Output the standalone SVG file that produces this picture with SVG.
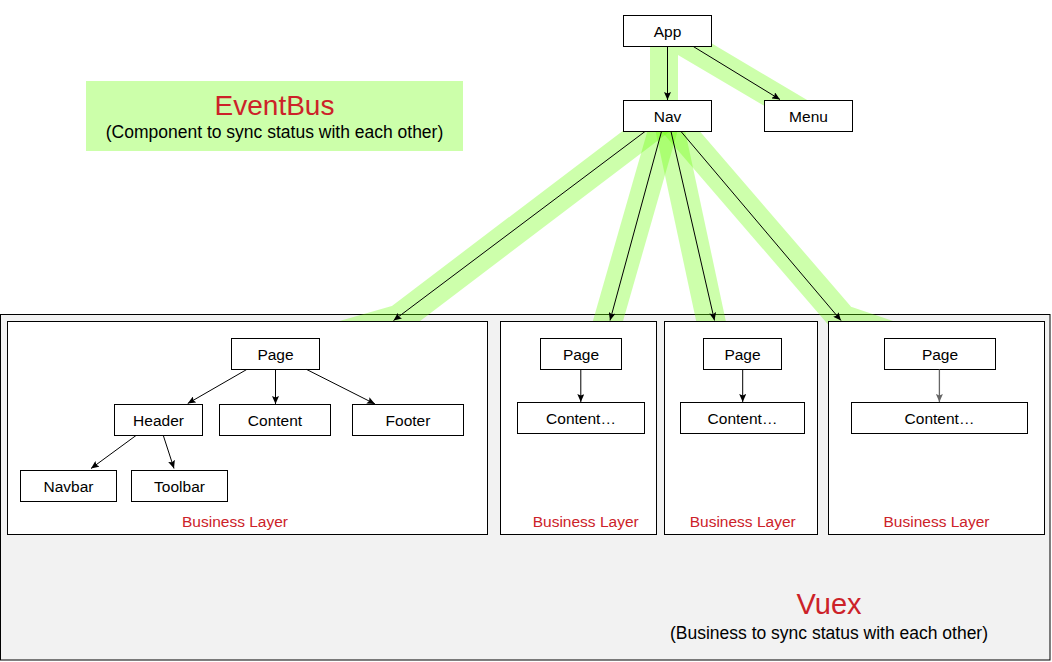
<svg xmlns="http://www.w3.org/2000/svg" width="1052" height="662" viewBox="0 0 1052 662">
<style>
.box{fill:#fff;stroke:#000;stroke-width:1}
.lbl{font-family:"Liberation Sans",Arial,sans-serif;font-size:15.5px;fill:#000;text-anchor:middle;dominant-baseline:central}
.red{font-family:"Liberation Sans",Arial,sans-serif;fill:#cc2229;text-anchor:middle}
.sub{font-family:"Liberation Sans",Arial,sans-serif;font-size:17.5px;fill:#000;text-anchor:middle}
.band{fill:none;stroke:#66ff00;stroke-opacity:0.33;stroke-width:29;stroke-linejoin:miter;stroke-linecap:butt}
.arrow{fill:none;stroke:#000;stroke-width:1;marker-end:url(#ah)}
</style>
<defs>
<marker id="ah" viewBox="0 0 8 7" refX="8" refY="3.5" markerWidth="8" markerHeight="7" markerUnits="userSpaceOnUse" orient="auto">
<path d="M0,0 L8,3.5 L0,7 L1.5,3.5 z" fill="#000"/>
</marker>
<marker id="ahg" viewBox="0 0 8 7" refX="8" refY="3.5" markerWidth="8" markerHeight="7" markerUnits="userSpaceOnUse" orient="auto">
<path d="M0,0 L8,3.5 L0,7 L1.5,3.5 z" fill="#666"/>
</marker>
</defs>

<g id="eventbus">
<rect x="86" y="81" width="377" height="70" fill="#ccffaa"/>
<text class="red" x="274.5" y="115" font-size="28">EventBus</text>
<text class="sub" x="274.5" y="138">(Component to sync status with each other)</text>
</g>

<g id="vuex">
<rect x="0.5" y="314.5" width="1049.5" height="345.5" fill="#f2f2f2" stroke="#000" stroke-width="1"/>
<text class="red" x="829" y="614" font-size="29">Vuex</text>
<text class="sub" x="829" y="639">(Business to sync status with each other)</text>
</g>

<g id="highlights">
<polygon points="650,40 650,100 678,100 678,55 790,121 824,110 706,40" fill="#66ff00" fill-opacity="0.33"/>
<polyline class="band" points="667,115.5 398.4,319.2 340,336"/>
<polyline class="band" points="667,115.5 605.4,330"/>
<polyline class="band" points="667,115.5 712.9,330"/>
<polyline class="band" points="667,115.5 842.7,319.2 895,337"/>
</g>

<g id="app"><rect class="box" x="623.5" y="15.5" width="88" height="31"/><text class="lbl" x="667.5" y="31">App</text></g>
<g id="nav"><rect class="box" x="623.5" y="100.5" width="88" height="31"/><text class="lbl" x="667.5" y="116">Nav</text></g>
<g id="menu"><rect class="box" x="764.5" y="100.5" width="88" height="31"/><text class="lbl" x="808.5" y="116">Menu</text></g>

<g id="business1">
<rect class="box" x="7.5" y="321.5" width="480" height="213"/>
<text class="red" x="235" y="527" font-size="15.5">Business Layer</text>
</g>
<g id="page1"><rect class="box" x="231.5" y="338.5" width="88" height="31"/><text class="lbl" x="275.5" y="354">Page</text></g>
<g id="header1"><rect class="box" x="114.5" y="404.5" width="88" height="31"/><text class="lbl" x="158.5" y="420">Header</text></g>
<g id="content1"><rect class="box" x="219.5" y="404.5" width="111" height="31"/><text class="lbl" x="275" y="420">Content</text></g>
<g id="footer1"><rect class="box" x="352.5" y="404.5" width="111" height="31"/><text class="lbl" x="408" y="420">Footer</text></g>
<g id="navbar1"><rect class="box" x="20.5" y="470.5" width="96" height="31"/><text class="lbl" x="68.5" y="486">Navbar</text></g>
<g id="toolbar1"><rect class="box" x="131.5" y="470.5" width="96" height="31"/><text class="lbl" x="179.5" y="486">Toolbar</text></g>

<g id="business2">
<rect class="box" x="500.5" y="321.5" width="156" height="213"/>
<text class="red" x="585.7" y="527" font-size="15.5">Business Layer</text>
</g>
<g id="page2"><rect class="box" x="540.5" y="338.5" width="81" height="31"/><text class="lbl" x="581" y="354">Page</text></g>
<g id="content2"><rect class="box" x="517.5" y="402.5" width="127" height="31"/><text class="lbl" x="581" y="418">Content…</text></g>

<g id="business3">
<rect class="box" x="664.5" y="321.5" width="153" height="213"/>
<text class="red" x="742.7" y="527" font-size="15.5">Business Layer</text>
</g>
<g id="page3"><rect class="box" x="703.5" y="338.5" width="78" height="31"/><text class="lbl" x="742.5" y="354">Page</text></g>
<g id="content3"><rect class="box" x="680.5" y="402.5" width="124" height="31"/><text class="lbl" x="742.5" y="418">Content…</text></g>

<g id="business4">
<rect class="box" x="828.5" y="321.5" width="216" height="213"/>
<text class="red" x="936.5" y="527" font-size="15.5">Business Layer</text>
</g>
<g id="page4"><rect class="box" x="884.5" y="338.5" width="111" height="31"/><text class="lbl" x="940" y="354">Page</text></g>
<g id="content4"><rect class="box" x="851.5" y="402.5" width="176" height="31"/><text class="lbl" x="939.5" y="418">Content…</text></g>

<g id="connectors">
<line class="arrow" x1="667.5" y1="46.5" x2="667.5" y2="100"/>
<line class="arrow" x1="693.3" y1="46.5" x2="780" y2="99.5"/>
<line class="arrow" x1="645" y1="131.5" x2="393.5" y2="320.5"/>
<line class="arrow" x1="661.5" y1="131.5" x2="610" y2="320.5"/>
<line class="arrow" x1="671" y1="131.5" x2="714.5" y2="320.5"/>
<line class="arrow" x1="681" y1="131.5" x2="841" y2="320.5"/>
<line class="arrow" x1="246.7" y1="369.5" x2="187.7" y2="403.5"/>
<line class="arrow" x1="275.5" y1="369.5" x2="275.5" y2="404"/>
<line class="arrow" x1="306.7" y1="369.5" x2="375" y2="404"/>
<line class="arrow" x1="136" y1="435.5" x2="91" y2="468.5"/>
<line class="arrow" x1="163.3" y1="435.5" x2="174" y2="468.5"/>
<line class="arrow" x1="580.8" y1="369.5" x2="580.8" y2="402"/>
<line class="arrow" x1="742.7" y1="369.5" x2="742.7" y2="402"/>
<line x1="939.4" y1="369.5" x2="939.4" y2="402" stroke="#666" stroke-width="1.3" marker-end="url(#ahg)"/>
</g>
</svg>
